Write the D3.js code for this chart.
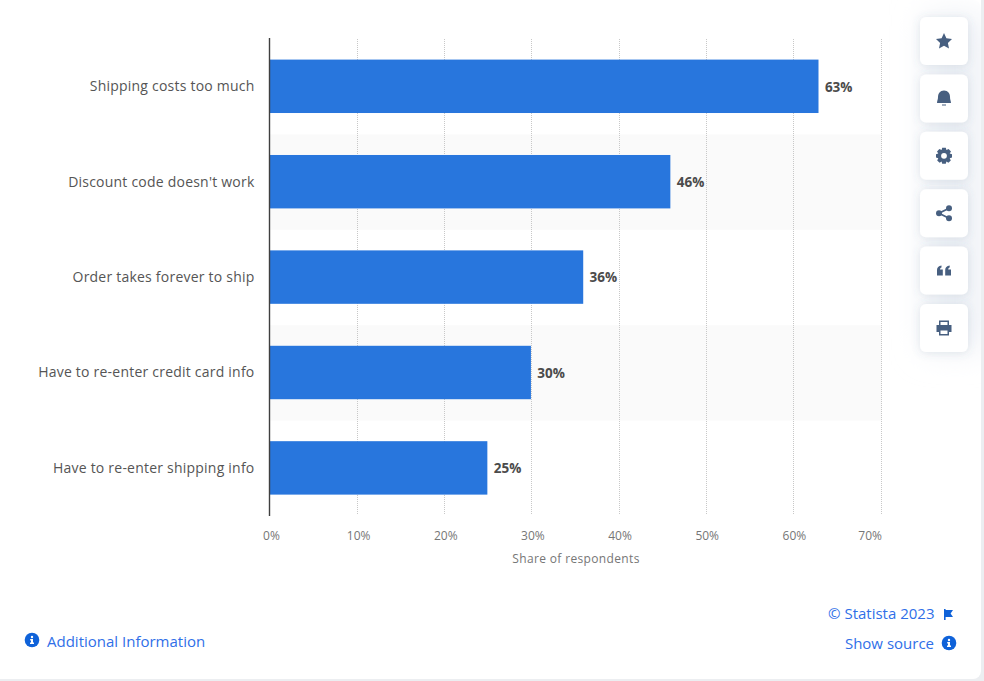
<!DOCTYPE html>
<html><head><meta charset="utf-8">
<script src="https://cdn.jsdelivr.net/npm/d3@7"></script>
<style>
html,body{margin:0;padding:0;background:#fff;overflow:hidden}
svg{display:block;font-family:"Open Sans",sans-serif}
</style></head><body><svg id="c" width="984" height="681"></svg>
<script>
const categories = ["Shipping costs too much","Discount code doesn't work","Order takes forever to ship","Have to re-enter credit card info","Have to re-enter shipping info"];
const shares = [63,46,36,30,25];
const xTicks = [0,10,20,30,40,50,60,70];
const axisTitle = "Share of respondents";
const tools = ["star","bell","gear","share","quote","print"];

const svg = d3.select("#c");
const defs = svg.append("defs");
const f = defs.append("filter").attr("id","sh").attr("x","-30%").attr("y","-30%").attr("width","160%").attr("height","160%");
f.append("feDropShadow").attr("dx",0).attr("dy",1).attr("stdDeviation",4).attr("flood-color","#5a6f8c").attr("flood-opacity",0.16);
const b = defs.append("filter").attr("id","blur").attr("x","-60%").attr("y","-20%").attr("width","220%").attr("height","140%");
b.append("feGaussianBlur").attr("stdDeviation",16);
const clip = defs.append("clipPath").attr("id","card");
clip.append("rect").attr("width",981).attr("height",679).attr("rx",8);

// page and card
svg.append("rect").attr("width",984).attr("height",681).attr("fill","#eceef1");
svg.append("rect").attr("x",-10).attr("y",-10).attr("width",991).attr("height",689).attr("rx",8).attr("fill","#fff");
svg.append("g").attr("clip-path","url(#card)").append("rect")
  .attr("x",925).attr("y",15).attr("width",60).attr("height",335).attr("fill","#eef1f6").attr("filter","url(#blur)");

const x = d3.scaleLinear().domain([0,70]).range([269.5,879.5]);
const y = d3.scaleBand().domain(categories).range([38.6,515.6]).paddingInner(0.44).paddingOuter(0.22);
const band = d3.scaleBand().domain(categories).range([39,516]);

// alternating stripes
svg.append("g").selectAll("rect").data(categories.filter((d,i)=>i%2===1)).join("rect")
  .attr("x",270).attr("width",612).attr("y",d=>band(d)).attr("height",band.bandwidth()).attr("fill","#fafafa");

// gridlines
const gridX = d => Math.floor(x(d)+0.5+d/70)+0.5;
svg.append("g").selectAll("line").data(xTicks.slice(1)).join("line")
  .attr("x1",gridX).attr("x2",gridX).attr("y1",39).attr("y2",514)
  .attr("stroke","#c8c8c8").attr("stroke-width",1).attr("stroke-dasharray","1 1");

// bars
svg.append("g").selectAll("rect").data(shares).join("rect")
  .attr("x",x(0)).attr("width",d=>x(d)-x(0))
  .attr("y",(d,i)=>y(categories[i])).attr("height",y.bandwidth())
  .attr("fill","#2876dd");

// baseline
svg.append("line").attr("x1",269.5).attr("x2",269.5).attr("y1",38).attr("y2",516).attr("stroke","#3f3f3f").attr("stroke-width",1.4);

// category labels
svg.append("g").selectAll("text").data(categories).join("text")
  .attr("x",254.5).attr("y",d=>y(d)+y.bandwidth()/2+4.8)
  .attr("text-anchor","end").attr("font-size",14).attr("letter-spacing",0.22).attr("fill","#555").text(d=>d);

// value labels
svg.append("g").selectAll("text").data(shares).join("text")
  .attr("x",d=>x(d)+6.4).attr("y",(d,i)=>y(categories[i])+y.bandwidth()/2+5.3)
  .attr("font-size",13.5).attr("font-weight",700).attr("fill","#4b4b4b").text(d=>d+"%");

// tick labels
svg.append("g").selectAll("text").data(xTicks).join("text")
  .attr("x",d=>d===70?x(d)+2.5:x(d)+2).attr("y",540).attr("text-anchor",d=>d===70?"end":"middle")
  .attr("font-size",12).attr("fill","#767676").text(d=>d+"%");
svg.append("text").attr("x",576).attr("y",563).attr("text-anchor","middle")
  .attr("font-size",12).attr("letter-spacing",0.35).attr("fill","#767676").text(axisTitle);

// footer
const blue="#0f62d9", link="#2f6fe8";
function info(cx,cy){
  const g=svg.append("g").attr("transform",`translate(${cx},${cy})`);
  g.append("circle").attr("r",7.3).attr("fill",blue);
  g.append("circle").attr("cy",-3).attr("r",1.2).attr("fill","#fff");
  g.append("path").attr("d","M-1.8,-0.9H1V2.6H2V4H-2V2.6H-1V0.5H-1.8Z").attr("fill","#fff");
}
info(32,640);
svg.append("text").attr("x",47).attr("y",647).attr("font-size",15).attr("fill",link).text("Additional Information");
svg.append("text").attr("x",934.5).attr("y",619).attr("text-anchor","end").attr("font-size",15).attr("fill",link).text("© Statista 2023");
svg.append("path").attr("d","M944,609H945.6V610H953L950.6,613.5L953,617H945.6V620H944Z").attr("fill",blue);
svg.append("text").attr("x",934).attr("y",649).attr("text-anchor","end").attr("font-size",15).attr("fill",link).text("Show source");
info(949,643);

// toolbar
const icon="#475f80";
const btnY = d3.scalePoint().domain(tools).range([41,328]);
const paths = {
 star:"M0,-8L2.4,-2.7L8,-2L3.9,1.9L5,7.6L0,4.8L-5,7.6L-3.9,1.9L-8,-2L-2.4,-2.7Z",
 bell:"M0,-8C4,-8 6,-5 6,-1.5C6,1 6.8,2 7,4.5H-7C-6.8,2 -6,1 -6,-1.5C-6,-5 -4,-8 0,-8ZM-2,6H2V7H-2Z",
 gear:"M-1.8,-8H1.8L2.4,-5.7L4.6,-6.8L7,-4.3L5.7,-2.3L8,-1.6V1.8L5.7,2.4L6.8,4.6L4.4,7L2.4,5.7L1.8,8H-1.8L-2.4,5.7L-4.4,7L-6.8,4.6L-5.7,2.4L-8,1.8V-1.6L-5.7,-2.3L-7,-4.3L-4.6,-6.8L-2.4,-5.7Z",
 quote:"M-7,5V-0.5C-7,-3 -5.5,-4.5 -2.5,-5V-3.2C-3.5,-3 -4,-2.4 -4,-1.2H-1.2V5ZM1.2,5V-0.5C1.2,-3 2.7,-4.5 5.7,-5V-3.2C4.7,-3 4.2,-2.4 4.2,-1.2H7V5Z",
 print:"M-5,-7.5H5V-3H7.5V4H5V7.5H-5V4H-7.5V-3H-5ZM-3.5,-6V-3H3.5V-6ZM-3.5,2.5V6H3.5V2.5Z"
};
tools.forEach(t=>{
  const cy=btnY(t);
  const g=svg.append("g").attr("transform",`translate(944,${cy})`);
  g.append("rect").attr("x",-24).attr("y",-24).attr("width",48).attr("height",48).attr("rx",6).attr("fill","#fff").attr("filter","url(#sh)");
  if(t==="share"){
    g.append("path").attr("d","M5,-5L-5,0L5,5").attr("fill","none").attr("stroke",icon).attr("stroke-width",1.8);
    [[5,-5],[-5,0],[5,5]].forEach(p=>g.append("circle").attr("cx",p[0]).attr("cy",p[1]).attr("r",3).attr("fill",icon));
  } else {
    g.append("path").attr("d",paths[t]).attr("fill",icon).attr("fill-rule","evenodd");
    if(t==="gear") g.append("circle").attr("r",2.9).attr("fill","#fff");
  }
});
</script></body></html>
